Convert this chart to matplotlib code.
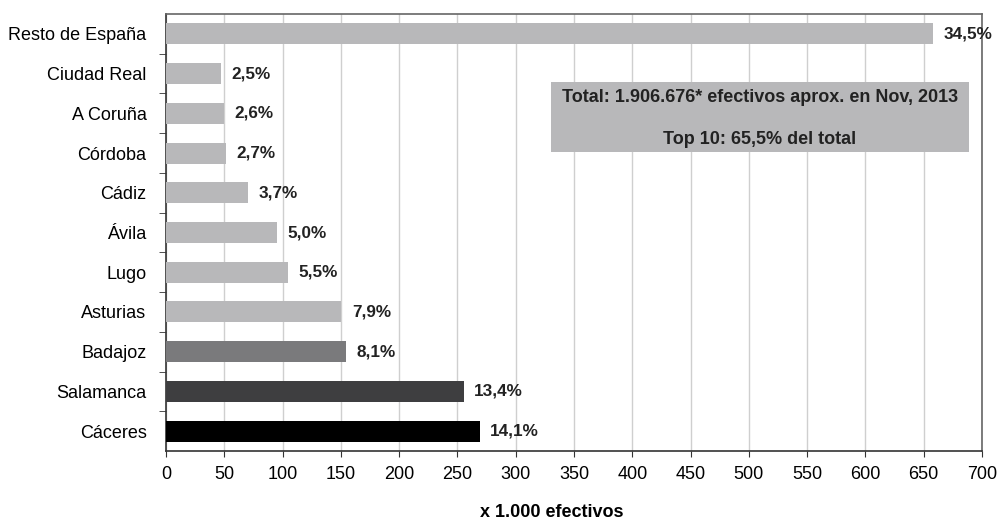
import matplotlib.pyplot as plt
from matplotlib.patches import Rectangle

plt.rcParams['font.family'] = ['Liberation Sans', 'DejaVu Sans']

# provincias (de abajo a arriba), miles de efectivos
provincias = ['Cáceres', 'Salamanca', 'Badajoz', 'Asturias', 'Lugo', 'Ávila',
              'Cádiz', 'Córdoba', 'A Coruña', 'Ciudad Real', 'Resto de España']
efectivos = [269, 255.5, 154.5, 150.5, 105, 95.5, 70.5, 51.5, 49.5, 47.5, 658]
porcentajes = ['14,1%', '13,4%', '8,1%', '7,9%', '5,5%', '5,0%',
               '3,7%', '2,7%', '2,6%', '2,5%', '34,5%']
colores = ['#000000', '#3e3e40', '#7a7a7c'] + ['#b8b8ba'] * 8

fig = plt.figure(figsize=(9.99, 5.2), dpi=100)
ax = fig.add_axes([166 / 999, 1 - 451 / 520, 816 / 999, 437 / 520])

y = list(range(len(provincias)))
ax.barh(y, efectivos, height=0.53, color=colores, zorder=3)
for yi, v, p in zip(y, efectivos, porcentajes):
    ax.text(v + 9, yi, p, va='center', ha='left', fontsize=12.3,
            fontweight='bold', color='#222222', zorder=4)

ax.set_xlim(0, 700)
ax.set_ylim(-0.5, len(provincias) - 0.5)
ax.set_xticks(range(0, 701, 50))
ax.tick_params(axis='x', labelsize=13, direction='out', length=4, pad=7,
               color='#333333')

# etiquetas centradas, marcas entre categorías
ax.set_yticks(y)
ax.set_yticklabels(provincias, fontsize=13)
ax.tick_params(axis='y', length=0, pad=14)
ax.set_yticks([i - 0.5 for i in range(1, len(provincias))], minor=True)
ax.tick_params(axis='y', which='minor', length=5, direction='out', color='#333333')

ax.grid(axis='x', color='#cfcfcf', linewidth=1, zorder=0)
for s in ['left', 'bottom']:
    ax.spines[s].set_color('#333333')
    ax.spines[s].set_linewidth(1.2)
for s in ['top', 'right']:
    ax.spines[s].set_color('#666666')
    ax.spines[s].set_linewidth(1.2)

ax.set_xlabel('x 1.000 efectivos', fontsize=13, fontweight='bold')
ax.xaxis.set_label_coords(0.473, -0.121)

# recuadro de totales
ax.add_patch(Rectangle((330, 7.03), 359, 1.76, facecolor='#b8b8ba',
                       edgecolor='none', zorder=5))
ax.text(509.5, 8.39, 'Total: 1.906.676* efectivos aprox. en Nov, 2013',
        ha='center', va='center', fontsize=13, fontweight='bold',
        color='#222222', zorder=6)
ax.text(509.5, 7.33, 'Top 10: 65,5% del total',
        ha='center', va='center', fontsize=13, fontweight='bold',
        color='#222222', zorder=6)

fig.savefig('out.png', dpi=100)
